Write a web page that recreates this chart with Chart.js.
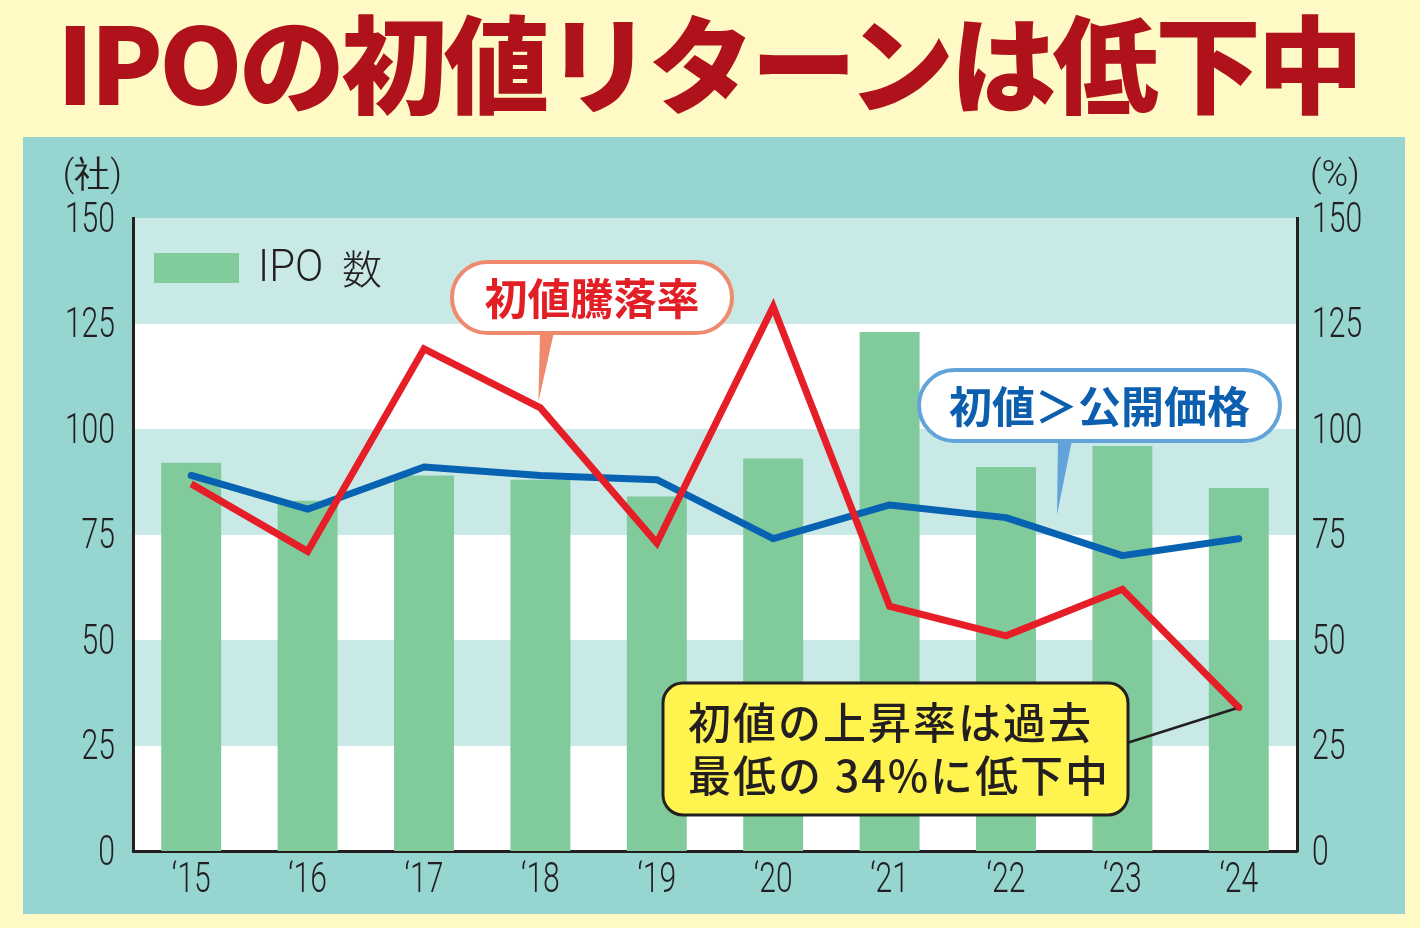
<!DOCTYPE html>
<html lang="ja">
<head>
<meta charset="utf-8">
<title>IPOの初値リターンは低下中</title>
<script src="https://cdn.jsdelivr.net/npm/chart.js@4.4.1/dist/chart.umd.min.js"></script>
<style>
  html, body { margin: 0; padding: 0; }
  body { width: 1420px; height: 928px; background: #fff9c6; position: relative; overflow: hidden;
         font-family: 'Noto Sans CJK JP', sans-serif; }
  #title { position: absolute; left: 0; top: -3px; width: 1420px; text-align: center; white-space: nowrap;
           font-weight: 900; font-size: 106px; line-height: 124px; color: #b0121b; }
  #panel { position: absolute; left: 23px; top: 137px; width: 1382px; height: 777px; background: #97d5d1; }
</style>
</head>
<body>
<div id="title"><span id="titleText">IPOの初値リターンは低下中</span></div>
<div id="panel"><canvas id="chart"></canvas></div>
<script>
'use strict';

// ---- data ----
const YEARS            = ['‘15', '‘16', '‘17', '‘18', '‘19', '‘20', '‘21', '‘22', '‘23', '‘24'];
const IPO_COUNT        = [92, 83, 89, 88, 84, 93, 123, 91, 96, 86];      // 社
const FIRST_DAY_RETURN = [87, 71, 119, 105, 73, 129, 58, 51, 62, 34];    // 初値騰落率 %
const ABOVE_OFFER      = [89, 81, 91, 89, 88, 74, 82, 79, 70, 74];       // 初値>公開価格 %
const AXIS_MIN = 0, AXIS_MAX = 150, AXIS_STEP = 25;

const NUM_FONT = "'Roboto', 'Noto Sans', sans-serif";
const JP_FONT  = "'Noto Sans CJK JP', sans-serif";
const INK = '#231f20';
const SQUEEZE = 0.7;   // the reference uses a condensed face for numbers

// stretch the headline to the reference width
(function fitTitle() {
  const span = document.getElementById('titleText');
  const n = span.textContent.length;
  const w = span.getBoundingClientRect().width;
  const ls = (1303 - w) / n;
  span.style.letterSpacing = ls + 'px';
  span.style.marginLeft = ls + 'px';
})();

function rrect(ctx, x, y, w, h, r) {
  ctx.beginPath();
  ctx.moveTo(x + r, y);
  ctx.arcTo(x + w, y, x + w, y + h, r);
  ctx.arcTo(x + w, y + h, x, y + h, r);
  ctx.arcTo(x, y + h, x, y, r);
  ctx.arcTo(x, y, x + w, y, r);
  ctx.closePath();
}

function narrowText(ctx, text, x, y, align, sx) {
  ctx.save();
  ctx.translate(x, y);
  ctx.scale(sx, 1);
  ctx.textAlign = align;
  ctx.fillText(text, 0, 0);
  ctx.restore();
}

function bubble(ctx, b) {
  rrect(ctx, b.x, b.y, b.w, b.h, b.h / 2);
  ctx.fillStyle = '#ffffff';
  ctx.fill();
  ctx.lineWidth = 4;
  ctx.strokeStyle = b.edge;
  ctx.stroke();
  // tail
  ctx.beginPath();
  ctx.moveTo(b.tail[0], b.y + b.h - 1);
  ctx.lineTo(b.tail[1], b.y + b.h - 1);
  ctx.lineTo(b.tip[0], b.tip[1]);
  ctx.closePath();
  ctx.fillStyle = b.edge;
  ctx.fill();
  ctx.font = '700 43px ' + JP_FONT;
  ctx.fillStyle = b.ink;
  ctx.textAlign = 'center';
  ctx.textBaseline = 'middle';
  ctx.fillText(b.text, b.x + b.w / 2, b.y + b.h / 2 + 1);
}

const bandPlugin = {
  id: 'bands',
  beforeDraw(chart) {
    const { ctx, chartArea: a, scales: { y } } = chart;
    ctx.save();
    for (let v = AXIS_MIN; v < AXIS_MAX; v += AXIS_STEP) {
      const top = y.getPixelForValue(v + AXIS_STEP), bot = y.getPixelForValue(v);
      ctx.fillStyle = ((v / AXIS_STEP) % 2) ? '#c8e9e6' : '#ffffff';
      ctx.fillRect(a.left, top, a.right - a.left, bot - top);
    }
    ctx.restore();
  }
};

// tick labels taken from the scales, drawn condensed
const tickPlugin = {
  id: 'narrowTicks',
  afterDraw(chart) {
    const ctx = chart.ctx;
    ctx.save();
    ctx.fillStyle = INK;
    ctx.font = '300 43px ' + NUM_FONT;
    ctx.textBaseline = 'middle';
    ['x', 'y', 'yR'].forEach(id => {
      const s = chart.scales[id];
      s.ticks.forEach((t, i) => {
        const p = s.getPixelForTick(i);
        const label = String(t.label);
        if (id === 'x')      narrowText(ctx, label, p, s.top + 30, 'center', SQUEEZE);
        else if (id === 'y') narrowText(ctx, label, s.right - 18, p + 3, 'right', SQUEEZE);
        else                 narrowText(ctx, label, s.left + 15, p + 3, 'left', SQUEEZE);
      });
    });
    ctx.restore();
  }
};

const notePlugin = {
  id: 'notes',
  afterDraw(chart) {
    const { ctx, chartArea: a, scales: { x, yR } } = chart;
    ctx.save();

    // unit labels
    ctx.fillStyle = INK;
    ctx.textBaseline = 'middle';
    ctx.font = '300 36px ' + NUM_FONT;
    ctx.textAlign = 'right';
    ctx.fillText('(社)', 99, 40);
    ctx.textAlign = 'left';
    ctx.fillText('(%)', 1287, 40);

    // legend
    ctx.fillStyle = '#81ca9c';
    ctx.fillRect(a.left + 21, a.top + 35, 85, 30);
    ctx.fillStyle = INK;
    ctx.font = '300 44px ' + NUM_FONT;
    narrowText(ctx, 'IPO', a.left + 125, a.top + 52, 'left', 0.95);
    ctx.font = '300 40px ' + JP_FONT;
    ctx.textAlign = 'left';
    ctx.fillText('数', a.left + 209, a.top + 51);

    // callouts
    bubble(ctx, {
      x: 429, y: 125, w: 280, h: 71, text: '初値騰落率',
      edge: '#ef8a6c', ink: '#e31f26', tail: [517, 531],
      tip: [x.getPixelForValue(3) - 2, yR.getPixelForValue(FIRST_DAY_RETURN[3]) - 6]
    });
    bubble(ctx, {
      x: 896, y: 233, w: 361, h: 71, text: '初値＞公開価格',
      edge: '#62a3da', ink: '#0b5fae', tail: [1035, 1049], tip: [1034, 378]
    });

    // yellow note with leader to the last point
    const px = x.getPixelForValue(9), py = yR.getPixelForValue(FIRST_DAY_RETURN[9]);
    ctx.beginPath();
    ctx.moveTo(1104, 606);
    ctx.lineTo(px, py);
    ctx.lineWidth = 2.5;
    ctx.strokeStyle = INK;
    ctx.stroke();
    ctx.beginPath();
    ctx.arc(px, py, 3.5, 0, Math.PI * 2);
    ctx.fillStyle = '#e31f26';
    ctx.fill();

    rrect(ctx, 640, 546, 465, 132, 20);
    ctx.fillStyle = '#fff350';
    ctx.fill();
    ctx.lineWidth = 3;
    ctx.strokeStyle = INK;
    ctx.stroke();
    ctx.fillStyle = INK;
    ctx.textAlign = 'left';
    ctx.textBaseline = 'middle';
    ctx.font = '500 43px ' + JP_FONT;
    if ('letterSpacing' in ctx) ctx.letterSpacing = '2px';
    ctx.fillText('初値の上昇率は過去', 665, 586);
    ctx.fillText('最低の 34%に低下中', 665, 639);
    ctx.restore();
  }
};

const axisBorder = { display: true, color: INK, width: 3 };

new Chart(document.getElementById('chart'), {
  type: 'bar',
  data: {
    labels: YEARS,
    datasets: [
      { type: 'line', label: '初値騰落率', data: FIRST_DAY_RETURN, yAxisID: 'yR',
        borderColor: '#e61e27', borderWidth: 7, pointRadius: 0, tension: 0,
        borderJoinStyle: 'miter', order: 1 },
      { type: 'line', label: '初値＞公開価格', data: ABOVE_OFFER, yAxisID: 'yR',
        borderColor: '#0862b2', borderWidth: 7, pointRadius: 0, tension: 0,
        borderCapStyle: 'round', borderJoinStyle: 'round', order: 2 },
      { type: 'bar', label: 'IPO 数', data: IPO_COUNT, yAxisID: 'y',
        backgroundColor: '#81ca9c', barPercentage: 0.515, categoryPercentage: 1, order: 3 }
    ]
  },
  options: {
    responsive: true,
    maintainAspectRatio: false,
    animation: false,
    layout: { padding: { top: 81, left: 0, right: 0, bottom: 0 } },
    plugins: { legend: { display: false }, tooltip: { enabled: false } },
    scales: {
      x: {
        grid: { display: false, drawTicks: false },
        border: axisBorder,
        ticks: { display: false },
        afterFit(s) { s.height = 63; }
      },
      y: {
        position: 'left', min: AXIS_MIN, max: AXIS_MAX,
        grid: { display: false, drawTicks: false },
        border: axisBorder,
        ticks: { stepSize: AXIS_STEP, display: false },
        afterFit(s) { s.width = 110; }
      },
      yR: {
        position: 'right', min: AXIS_MIN, max: AXIS_MAX,
        grid: { display: false, drawTicks: false },
        border: axisBorder,
        ticks: { stepSize: AXIS_STEP, display: false },
        afterFit(s) { s.width = 108; }
      }
    }
  },
  plugins: [bandPlugin, tickPlugin, notePlugin]
});
</script>
</body>
</html>
